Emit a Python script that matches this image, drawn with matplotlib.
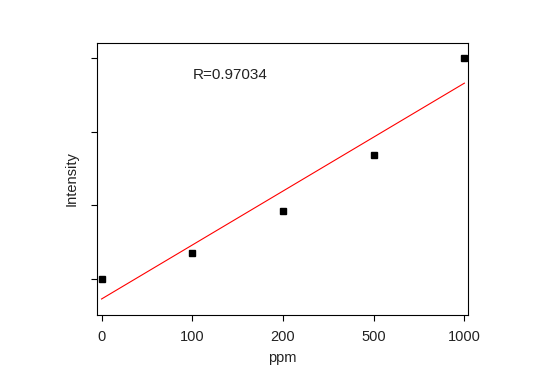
import numpy as np
import matplotlib
matplotlib.use("Agg")
import matplotlib.pyplot as plt

# concentrations shown as equally spaced categories
ppm_labels = ["0", "100", "200", "500", "1000"]
intensity = [1.0, 1.36, 1.93, 2.68, 4.01]
r_text = "R=0.97034"

plt.rcParams["font.family"] = ["Liberation Sans", "DejaVu Sans"]

x = np.arange(len(ppm_labels))
y = np.array(intensity)

fig = plt.figure(figsize=(5.49, 3.83), dpi=100)
ax = fig.add_axes([0.1767, 0.1775, 0.6758, 0.7102])

# linear fit on the category index
slope, intercept = np.polyfit(x, y, 1)
ax.plot(x, slope * x + intercept, color="red", lw=0.8)
ax.plot(x, y, ls="none", marker="s", ms=5, color="black")

ax.set_xlim(-0.05, 4.04)
ax.set_ylim(0.51, 4.21)
ax.set_xticks(x)
ax.set_xticklabels(ppm_labels, fontsize=10.5, color="#222222")
ax.set_yticks([1, 2, 3, 4])
ax.set_yticklabels([])
ax.tick_params(direction="out", length=4, width=0.8)
ax.tick_params(axis="x", pad=7)

ax.set_xlabel("ppm", fontsize=10.5, color="#222222", labelpad=5)
ax.set_ylabel("Intensity", fontsize=10.5, color="#222222")
ax.yaxis.set_label_coords(-0.05, 0.5)

ax.text(1.01, 3.77, r_text, fontsize=11, color="#222222", va="center", ha="left")

for sp in ax.spines.values():
    sp.set_linewidth(0.8)

fig.savefig("out.png", dpi=100)
